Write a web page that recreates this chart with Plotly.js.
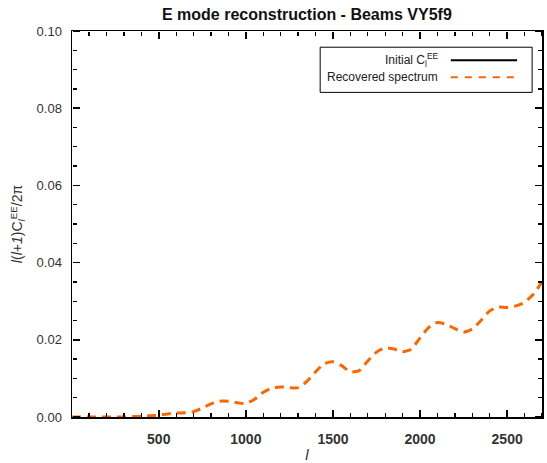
<!DOCTYPE html>
<html>
<head>
<meta charset="utf-8">
<script src="https://cdn.plot.ly/plotly-3.0.1.min.js"></script>
<style>
html,body{margin:0;padding:0;background:#fff;}
#chart{width:547px;height:463px;}
</style>
</head>
<body>
<div id="chart"></div>
<script>
// multipole l
const ell = [2, 50, 100, 150, 200, 250, 300, 350, 400, 450, 500, 550, 600, 650, 700,
  750, 800, 850, 900, 950, 1000, 1050, 1100, 1150, 1200, 1250, 1300, 1350, 1400, 1450,
  1500, 1550, 1600, 1650, 1700, 1750, 1800, 1850, 1900, 1950, 2000, 2050, 2100, 2150,
  2200, 2250, 2300, 2350, 2400, 2450, 2500, 2550, 2600, 2650, 2700];
// recovered spectrum l(l+1)C_l^EE/2pi
const recovered = [0.0000, 0.0000, 0.0000, 0.0000, 0.0000, 0.0000, 0.0000, 0.0001, 0.0002, 0.0003,
  0.0005, 0.0008, 0.0010, 0.0011, 0.0014, 0.0023, 0.0034, 0.0041, 0.0041, 0.0037,
  0.0035, 0.0046, 0.0064, 0.0075, 0.0078, 0.0076, 0.0076, 0.0092, 0.0117, 0.0138,
  0.0143, 0.0133, 0.0117, 0.0120, 0.0145, 0.0168, 0.0179, 0.0176, 0.0169, 0.0176,
  0.0205, 0.0232, 0.0245, 0.0240, 0.0229, 0.0220, 0.0228, 0.0250, 0.0275, 0.0285,
  0.0284, 0.0288, 0.0297, 0.0318, 0.0350];
const xTickVals = [500, 1000, 1500, 2000, 2500];
const yTickVals = [0, 0.02, 0.04, 0.06, 0.08, 0.10];
const yTickText = ['0.00', '0.02', '0.04', '0.06', '0.08', '0.10'];
const legendLabels = ['Initial C<sub>l</sub><sup>EE</sup>', 'Recovered spectrum'];
const orange = 'rgb(255,102,0)';
const xRange = [2, 2700];
const yRange = [0, 0.1];

const traces = [
  {
    x: ell, y: recovered, type: 'scatter', mode: 'lines',
    line: {color: orange, width: 3, dash: '9px,6px', shape: 'spline', smoothing: 0.6},
    showlegend: false, hoverinfo: 'skip'
  },
  // invisible carriers so the tick-only overlay axes are drawn
  {x: ell, y: recovered, type: 'scatter', mode: 'lines', xaxis: 'x2', yaxis: 'y2',
    line: {color: 'rgba(0,0,0,0)', width: 0}, showlegend: false, hoverinfo: 'skip'},
  {x: ell, y: recovered, type: 'scatter', mode: 'lines', xaxis: 'x3', yaxis: 'y3',
    line: {color: 'rgba(0,0,0,0)', width: 0}, showlegend: false, hoverinfo: 'skip'}
];

// tick-only axes: "outside" ticks on an axis placed on the opposite edge point into the plot
function xTicks(side, pos) {
  return {range: xRange, overlaying: 'x', side: side, anchor: 'free', position: pos,
    showgrid: false, zeroline: false, showline: false, showticklabels: false,
    ticks: 'outside', ticklen: 7, tickwidth: 1.5, tickcolor: '#000', tickvals: xTickVals,
    minor: {dtick: 100, ticks: 'outside', ticklen: 4, tickwidth: 1.3, tickcolor: '#000'}};
}
function yTicks(side, pos) {
  return {range: yRange, overlaying: 'y', side: side, anchor: 'free', position: pos,
    autoshift: false, shift: 0,
    showgrid: false, zeroline: false, showline: false, showticklabels: false,
    ticks: 'outside', ticklen: 7, tickwidth: 1.5, tickcolor: '#000', tickvals: yTickVals,
    minor: {dtick: 0.005, ticks: 'outside', ticklen: 4, tickwidth: 1.3, tickcolor: '#000'}};
}

const lx0 = 0.528, lx1 = 0.979, ly0 = 0.841, ly1 = 0.958;
const rowY = [0.924, 0.880];
const layout = {
  width: 547, height: 463,
  margin: {l: 72, r: 5, t: 31, b: 46},
  paper_bgcolor: '#fff', plot_bgcolor: '#fff',
  font: {family: 'Liberation Sans, Arial, sans-serif', color: '#222'},
  title: {text: '<b>E mode reconstruction - Beams VY5f9</b>',
    font: {size: 16, color: '#111'}, x: 0.561, xanchor: 'center', y: 0.968, yanchor: 'middle'},
  xaxis: {
    range: xRange, showgrid: false, zeroline: false,
    showline: true, linecolor: '#000', linewidth: 1.5, mirror: true,
    ticks: '', tickvals: xTickVals, ticklabelstandoff: 9,
    tickfont: {size: 14, color: '#333', weight: 'bold'},
    title: {text: '<i>l</i>', font: {size: 15, color: '#333'}, standoff: 10}
  },
  yaxis: {
    range: yRange, showgrid: false, zeroline: false,
    showline: true, linecolor: '#000', linewidth: 1.5, mirror: true,
    ticks: '', tickvals: yTickVals, ticktext: yTickText, ticklabelstandoff: 6,
    tickfont: {size: 13, color: '#333'},
    title: {text: '<i>l</i>(<i>l</i>+<i>1</i>)C<sub><i>l</i></sub><sup>EE</sup>/2π', font: {size: 14, color: '#333'}, standoff: 10}
  },
  xaxis2: xTicks('top', 0),
  xaxis3: xTicks('bottom', 1),
  yaxis2: yTicks('right', 0),
  yaxis3: yTicks('left', 0.999),
  shapes: [
    {type: 'rect', xref: 'paper', yref: 'paper', x0: lx0, x1: lx1, y0: ly0, y1: ly1,
      line: {color: '#000', width: 1}, fillcolor: 'rgba(0,0,0,0)'},
    {type: 'line', xref: 'paper', yref: 'paper', x0: 0.806, x1: 0.947, y0: rowY[0], y1: rowY[0],
      line: {color: '#000', width: 2}},
    {type: 'line', xref: 'paper', yref: 'paper', x0: 0.806, x1: 0.947, y0: rowY[1], y1: rowY[1],
      line: {color: orange, width: 2, dash: '7px,7px'}}
  ],
  annotations: legendLabels.map((t, i) => ({
    text: t, xref: 'paper', yref: 'paper', x: 0.783, y: rowY[i],
    xanchor: 'right', yanchor: 'middle', showarrow: false,
    font: {size: 12, color: '#222'}
  }))
};

Plotly.newPlot('chart', traces, layout, {staticPlot: true, displayModeBar: false});
</script>
</body>
</html>
